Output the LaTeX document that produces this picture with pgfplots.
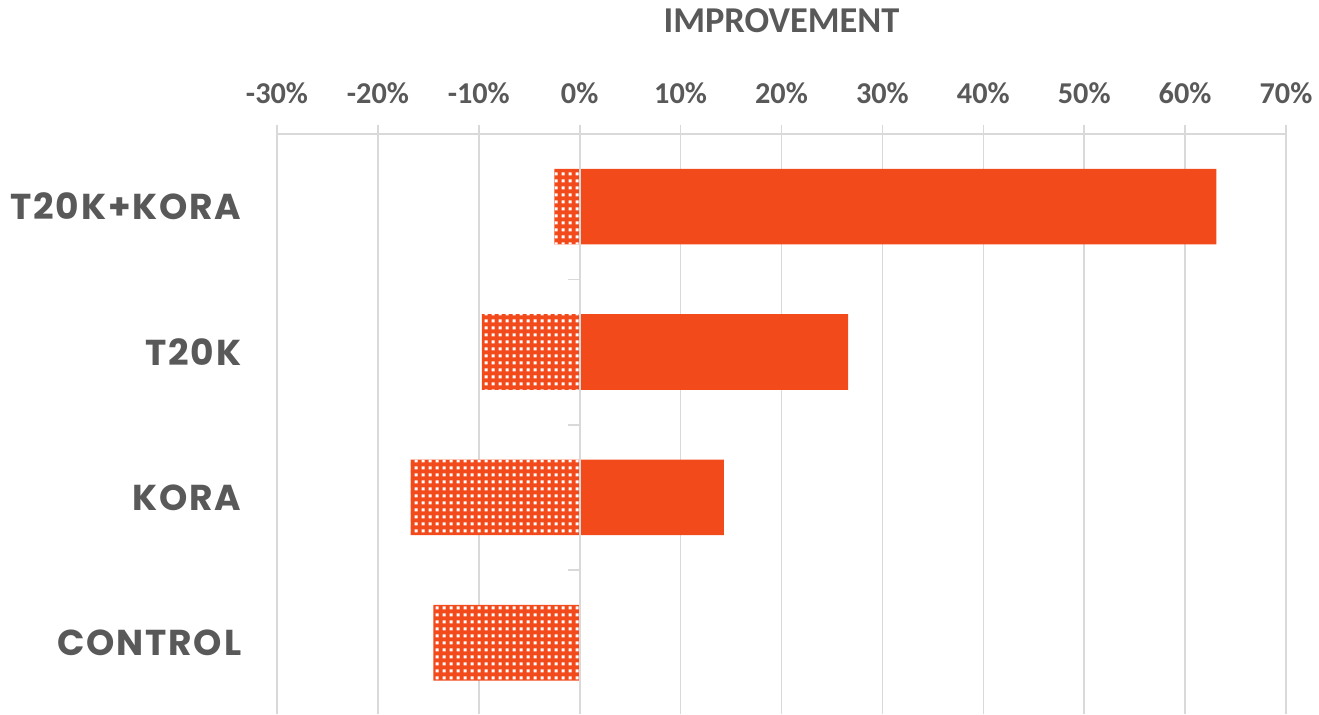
\documentclass[border=0pt]{standalone}
\usepackage{pgfplots}
\pgfplotsset{compat=1.18}
\usepackage{fontspec}
\setmainfont{Carlito}
\newfontfamily\catfont{Poppins}[LetterSpace=5]
\usetikzlibrary{patterns}

\definecolor{barorange}{HTML}{F34A1C}
\definecolor{txtgray}{HTML}{595959}
\definecolor{gridgray}{HTML}{D9D9D9}

\pgfdeclarepatternformonly{whitecells}{\pgfqpoint{0pt}{0pt}}{\pgfqpoint{5pt}{5pt}}{\pgfqpoint{5pt}{5pt}}{%
  \pgfpathrectangle{\pgfqpoint{1.3pt}{1.3pt}}{\pgfqpoint{2.4pt}{2.4pt}}%
  \pgfusepath{fill}}

\begin{document}
\begin{tikzpicture}
\begin{axis}[
    name=main,
    scale only axis,
    width=756.75pt,
    height=435pt,
    xmin=-30, xmax=70,
    ymin=-0.49, ymax=3.5,
    axis x line*=top,
    axis y line*=left,
    y axis line style={draw=none},
    x axis line style={gridgray, line width=1.2pt},
    xtick={-30,-20,...,70},
    xticklabels={-30\%,-20\%,-10\%,0\%,10\%,20\%,30\%,40\%,50\%,60\%,70\%},
    xtick align=outside,
    major tick length=6.75pt,
    xtick style={gridgray, line width=1.2pt},
    xmajorgrids,
    grid style={gridgray, line width=1.2pt},
    xticklabel style={font=\fontsize{22.7}{26}\selectfont\bfseries, text=txtgray, yshift=12.75pt},
    ytick={0,1,2,3},
    yticklabels={CONTROL,KORA,T20K,T20K+KORA},
    ytick style={draw=none},
    yticklabel style={font=\catfont\fontsize{27}{30}\selectfont\bfseries, text=txtgray, anchor=east, xshift=-16.5pt},
    title={IMPROVEMENT},
    title style={at={(0.5,1)}, anchor=base, yshift=69.75pt,
                 font=\fontsize{27.3}{30}\selectfont\bfseries, text=txtgray},
    xbar,
    bar shift=0pt,
    bar width=0.52,
]
\addplot[draw=none, fill=barorange] coordinates {
    (63.1,3)
    (26.6,2)
    (14.3,1)
};
\addplot[draw=none, fill=barorange,
         postaction={pattern=whitecells, pattern color=white}] coordinates {
    (-2.5,3)
    (-9.7,2)
    (-16.75,1)
    (-14.5,0)
};
\end{axis}
\begin{axis}[
    scale only axis,
    width=756.75pt,
    height=435pt,
    xmin=-30, xmax=70,
    ymin=-0.49, ymax=3.5,
    axis x line=none,
    axis y line=center,
    y axis line style={gridgray, line width=1.2pt, -},
    ytick={0.5,1.5,2.5},
    yticklabels={},
    ytick align=outside,
    major tick length=9pt,
    ytick style={gridgray, line width=1.2pt},
]
\end{axis}
\pgfresetboundingbox
\useasboundingbox (main.south west) ++(-207.75pt,0pt) rectangle ++(989.25pt,535.5pt);
\end{tikzpicture}
\end{document}
